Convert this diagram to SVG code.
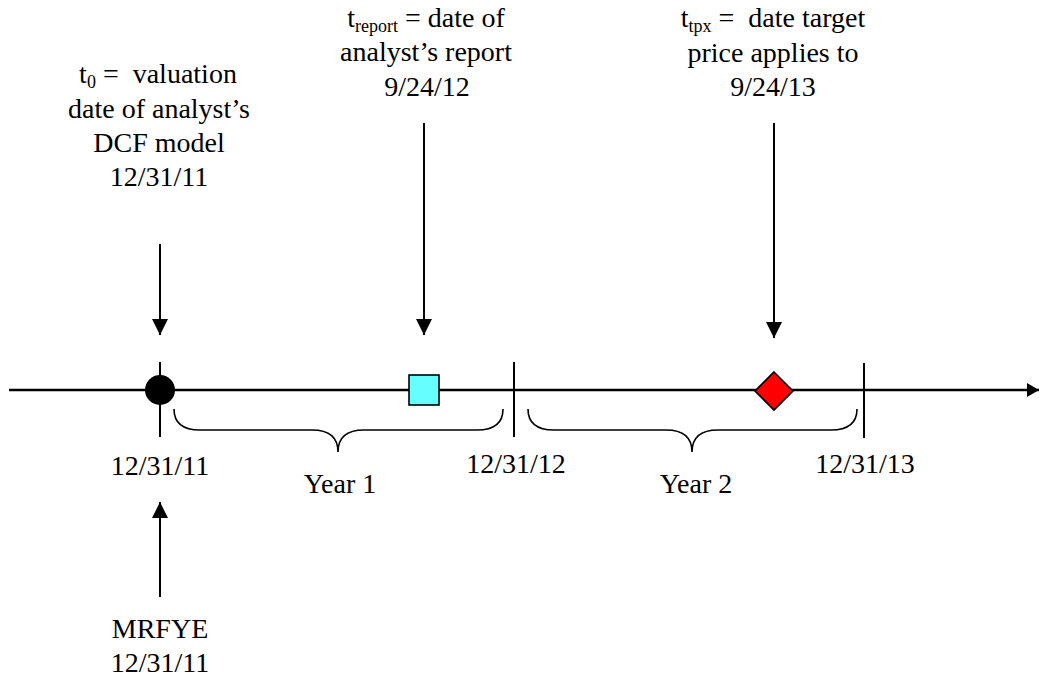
<svg xmlns="http://www.w3.org/2000/svg" width="1039" height="679" viewBox="0 0 1039 679">
<defs>
<style>
text{font-family:"Liberation Serif","Times New Roman",serif;font-size:28px;fill:#000;text-anchor:middle}
.sub{font-size:18px}
.ln{stroke:#000;stroke-width:2;fill:none}
.axis{stroke:#000;stroke-width:2.5;fill:none}
.brace{stroke:#000;stroke-width:1.6;fill:none}
</style>
<marker id="ah" markerUnits="userSpaceOnUse" markerWidth="16" markerHeight="16" viewBox="0 0 16 16" refX="16" refY="8" orient="auto">
<path d="M0,0 L16,8 L0,16 Z" fill="#000"/>
</marker>
<marker id="ah2" markerUnits="userSpaceOnUse" markerWidth="12" markerHeight="16" viewBox="0 0 12 16" refX="12" refY="8" orient="auto">
<path d="M0,1 L12,8 L0,15 Z" fill="#000"/>
</marker>
</defs>
<rect width="1039" height="679" fill="#fff"/>
<g id="connectors">
<line class="axis" x1="9" y1="390" x2="1039" y2="390" marker-end="url(#ah2)"/>
<line class="ln" x1="160" y1="244" x2="160" y2="335" marker-end="url(#ah)"/>
<line class="ln" x1="424" y1="123" x2="424" y2="335" marker-end="url(#ah)"/>
<line class="ln" x1="774" y1="123" x2="774" y2="338" marker-end="url(#ah)"/>
<line class="ln" x1="160" y1="597" x2="160" y2="502" marker-end="url(#ah)"/>
<line class="ln" x1="160" y1="362" x2="160" y2="437"/>
<line class="ln" x1="514" y1="362" x2="514" y2="437"/>
<line class="ln" x1="864" y1="363" x2="864" y2="438"/>
<path class="brace" d="M174,409 C174,422 182,430 200,430 L312,430 C330,430 338,438 338,452 C338,438 346,430 364,430 L477,430 C495,430 503,422 503,409"/>
<path class="brace" d="M528,409 C528,422 536,430 554,430 L666,430 C684,430 692,438 692,452 C692,438 700,430 718,430 L831,430 C849,430 857,422 857,409"/>
</g>
<g id="t0-marker"><circle cx="160" cy="390" r="15" fill="#000"/></g>
<g id="report-marker"><rect x="409" y="375" width="30" height="30" fill="#66FFFF" stroke="#000" stroke-width="1.6"/></g>
<g id="tpx-marker"><polygon points="774,372 793,391 774,410 755,391" fill="#FF0000" stroke="#000" stroke-width="1.6"/></g>
<g id="t0-label">
<text x="158" y="83" xml:space="preserve">t<tspan class="sub" dy="5">0</tspan><tspan dy="-5"> =  valuation</tspan></text>
<text x="159" y="118">date of analyst’s</text>
<text x="159" y="152">DCF model</text>
<text x="159" y="186">12/31/11</text>
</g>
<g id="report-label">
<text x="426" y="27">t<tspan class="sub" dy="5">report</tspan><tspan dy="-5"> = date of</tspan></text>
<text x="426" y="61">analyst’s report</text>
<text x="427" y="96">9/24/12</text>
</g>
<g id="tpx-label">
<text x="773" y="27" xml:space="preserve">t<tspan class="sub" dy="5">tpx</tspan><tspan dy="-5"> =  date target</tspan></text>
<text x="773" y="62">price applies to</text>
<text x="773" y="96">9/24/13</text>
</g>
<g id="axis-labels">
<text x="160" y="475">12/31/11</text>
<text x="516" y="473">12/31/12</text>
<text x="865" y="473">12/31/13</text>
<text x="340" y="493">Year 1</text>
<text x="696" y="493">Year 2</text>
</g>
<g id="mrfye-label">
<text x="160" y="638">MRFYE</text>
<text x="160" y="672">12/31/11</text>
</g>
</svg>
